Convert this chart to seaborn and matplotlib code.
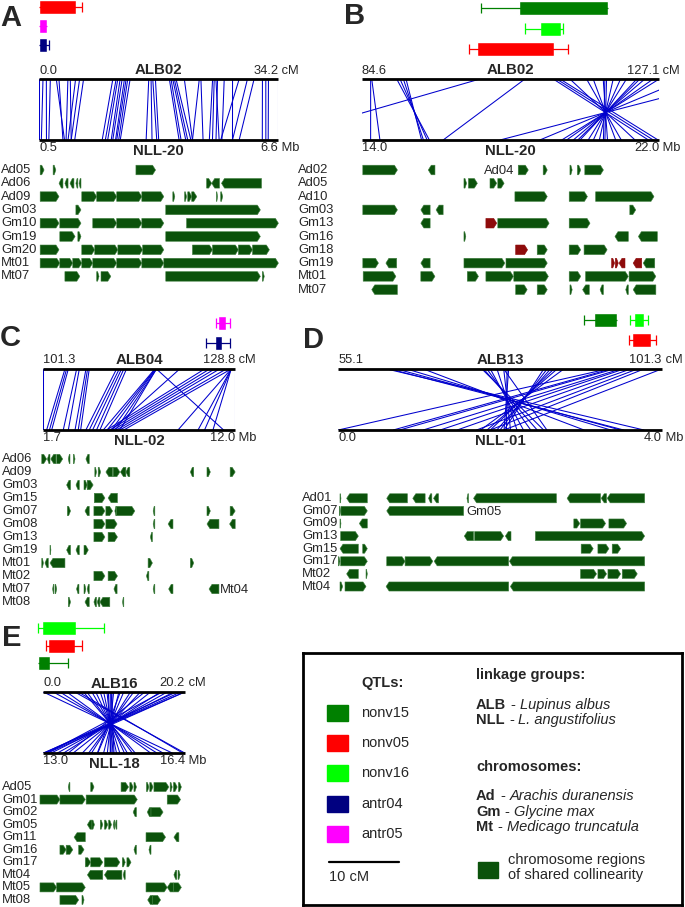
import numpy as np
import pandas as pd
import matplotlib
matplotlib.use("Agg")
import matplotlib.pyplot as plt
from matplotlib.patches import Rectangle
import seaborn as sns

sns.set_theme(style="white")
plt.rcParams['font.family'] = ['Liberation Sans', 'DejaVu Sans']

W, H = 685, 907
PX_PER_CM = 7.0
BLUE = '#0000cd'
BLOCK = '#0b520b'
DARKRED = '#8e0b0b'
qtl_names = ['nonv15', 'nonv05', 'nonv16', 'antr04', 'antr05']
qtl_colors = ['#008000', '#ff0000', '#00ff00', '#000080', '#ff00ff']
QCOL = dict(zip(qtl_names, qtl_colors))

# ---------------- panel A : ALB02 vs NLL-20 ----------------
a_cm = (0.0, 34.2)
a_mb = (0.5, 6.6)
# (qtl, row, whisker lo, box lo, box hi, whisker hi)  in cM
a_qtls = [('nonv05', 0, 0.0, 0.0, 5.27, 6.13),
          ('antr05', 1, 0.0, 0.0, 1.14, 1.14),
          ('antr04', 2, 0.0, 0.0, 1.14, 1.42)]
a_link_cm = [0.0, 0.57, 1.05, 1.62, 2.47, 2.85, 4.13, 4.47, 5.23, 5.80, 6.37, 10.55, 11.02,
             11.26, 11.59, 11.88, 12.21, 12.45, 12.68, 13.02, 15.68, 16.01, 16.25, 16.63,
             18.62, 18.86, 19.10, 19.33, 19.57, 20.76, 22.90, 23.13, 24.80, 25.03, 25.27,
             25.51, 26.46, 27.65, 28.60, 29.78, 30.73, 31.92, 32.40, 32.78, 34.2]
a_link_mb = [0.50, 0.56, 0.69, 0.75, 1.15, 1.11, 1.19, 1.32, 1.24, 1.32, 1.41, 2.11, 2.19,
             2.25, 2.34, 2.38, 2.45, 2.48, 2.53, 2.57, 3.23, 3.38, 3.50, 3.55,
             4.07, 4.12, 4.24, 4.29, 4.37, 4.41, 4.41, 4.68, 4.84, 4.92, 5.09,
             5.01, 5.16, 5.43, 5.13, 5.43, 5.60, 6.19, 6.28, 6.34, 6.60]
a_rows = ['Ad05', 'Ad06', 'Ad09', 'Gm03', 'Gm10', 'Gm19', 'Gm20', 'Mt01', 'Mt07']
a_blocks = [
    [(0.53, 0.63), (0.86, 0.93), (2.97, 3.47)],
    [(1.11, 1.01), (1.24, 1.16), (1.39, 1.29), (1.49, 1.44), (1.57, 1.52), (4.77, 4.90), (5.10, 4.90), (6.17, 5.15)],
    [(0.53, 1.01), (1.59, 1.97), (1.97, 2.48), (2.48, 3.12), (3.12, 3.68), (3.91, 3.96), (4.21, 4.26),
     (4.29, 4.39), (4.39, 4.52), (5.02, 5.05), (5.13, 5.18)],
    [(1.44, 1.57), (3.73, 6.14)],
    [(0.53, 1.01), (1.03, 1.57), (1.87, 2.48), (2.48, 3.12), (3.12, 3.68), (4.26, 6.60)],
    [(1.03, 1.42), (1.49, 1.57), (3.73, 6.14)],
    [(0.53, 1.01), (1.59, 1.92), (1.92, 2.51), (2.51, 3.14), (3.14, 3.68), (4.41, 4.92), (4.92, 5.58),
     (5.58, 5.94), (5.94, 6.37)],
    [(0.53, 1.03), (1.03, 1.36), (1.36, 1.59), (1.59, 1.87), (1.87, 2.48), (2.48, 3.12), (3.12, 3.68), (3.68, 6.60)],
    [(1.16, 1.54), (1.97, 2.03), (2.08, 2.33), (3.73, 6.14), (6.19, 6.24)],
]

# ---------------- panel B : ALB02 vs NLL-20 ----------------
b_cm = (84.6, 127.1)
b_mb = (14.0, 22.0)
b_qtls = [('nonv15', 0, 101.6, 107.0, 119.8, 119.8),
          ('nonv16', 1, 107.9, 110.0, 113.0, 113.4),
          ('nonv05', 2, 99.9, 101.1, 112.0, 114.0)]
b_link_cm = [85.88, 86.03, 89.60, 90.07, 90.55, 90.93, 101.49, 107.92, 111.96, 112.44, 112.92,
             114.34, 116.72, 117.67, 119.10, 119.34, 119.58, 120.53, 121.58, 122.43, 123.91,
             124.34, 125.05, 126.24, 127.10, 130.86, 137.85]
b_link_mb = [14.24, 14.49, 15.82, 15.76, 15.66, 15.61, 11.50, 16.19, 21.71, 21.84, 21.97,
             21.35, 20.98, 20.83, 20.61, 20.50, 20.54, 20.39, 20.23, 20.09, 19.87,
             19.81, 19.69, 19.51, 19.38, 18.79, 17.72]
b_rows = ['Ad02', 'Ad05', 'Ad10', 'Gm03', 'Gm13', 'Gm16', 'Gm18', 'Gm19', 'Mt01', 'Mt07']
b_blocks = [
    [(14.03, 14.96), (15.97, 15.79), (18.21, 18.48), (18.88, 18.99), (19.60, 19.66), (19.80, 19.89), (20.00, 20.50)],
    [(16.75, 16.82), (16.87, 17.11), (17.45, 17.63), (17.66, 17.83)],
    [(18.12, 18.99), (19.58, 20.07), (20.29, 21.86)],
    [(14.03, 14.96), (15.84, 15.59), (16.19, 16.00), (21.21, 21.37)],
    [(15.84, 15.59), (17.66, 19.04), (19.58, 20.14)],
    [(16.75, 16.80), (21.17, 20.81), (21.95, 21.44)],
    [(18.72, 18.99), (19.58, 19.89), (19.98, 20.60)],
    [(14.03, 14.45), (14.94, 14.65), (15.84, 15.59), (16.75, 17.85), (17.88, 18.99), (21.88, 21.57)],
    [(14.04, 14.92), (15.59, 15.97), (16.84, 17.14), (17.34, 18.08), (18.09, 19.02), (19.58, 19.89),
     (20.02, 21.17), (21.19, 21.91)],
    [(14.96, 14.27), (18.14, 18.45), (18.72, 18.99), (19.60, 19.66), (20.12, 19.94), (20.50, 20.41),
     (21.17, 21.10), (21.91, 21.30)],
]
b_red = {'Gm13': [(17.34, 17.63)], 'Gm18': [(18.14, 18.46)],
         'Gm19': [(20.72, 20.80), (20.82, 20.90), (21.08, 20.92), (21.53, 21.30)]}

# ---------------- panel C : ALB04 vs NLL-02 ----------------
c_cm = (101.3, 128.8)
c_mb = (1.7, 12.0)
c_qtls = [('antr05', 0, 126.1, 126.3, 127.5, 128.0),
          ('antr04', 1, 124.6, 125.9, 126.9, 128.0)]
c_link_cm = [101.3, 104.48, 104.72, 104.96, 106.15, 106.53, 107.48, 107.71, 107.95, 111.85, 112.23,
             112.56, 112.89, 113.27, 117.31, 117.40, 117.45, 117.55, 117.55, 117.55, 120.87, 124.43,
             125.15, 125.86, 126.57, 127.52, 128.23, 128.23, 128.23, 128.23, 128.23, 128.8]
c_link_mb = [1.70, 1.91, 2.06, 2.18, 2.80, 3.07, 3.43, 3.60, 3.73, 4.01, 4.19,
             4.37, 4.58, 4.76, 4.94, 5.15, 5.38, 5.61, 5.83, 11.38, 5.38, 5.12,
             5.29, 5.47, 5.65, 5.83, 6.04, 8.94, 10.01, 10.36, 10.81, 12.00]
c_rows = ['Ad06', 'Ad09', 'Gm03', 'Gm15', 'Gm07', 'Gm08', 'Gm13', 'Gm19', 'Mt01', 'Mt02', 'Mt07', 'Mt08']
c_blocks = [
    [(1.65, 1.91), (2.09, 1.95), (2.41, 2.13), (2.45, 2.77), (3.16, 3.07), (3.34, 3.43), (4.19, 4.01)],
    [(4.49, 4.58), (4.67, 4.80), (5.44, 5.08), (5.47, 5.83), (6.15, 5.86), (6.36, 6.15), (9.78, 9.60),
     (10.49, 10.67), (11.73, 12.0)],
    [(3.19, 2.98), (3.66, 3.48), (3.91, 4.08), (4.08, 4.40)],
    [(4.46, 5.03), (5.70, 5.20)],
    [(3.02, 3.19), (4.19, 3.96), (4.44, 5.03), (5.08, 5.44), (5.65, 5.56), (5.65, 6.63), (7.70, 7.61),
     (10.49, 10.67), (11.73, 12.0)],
    [(4.44, 5.03), (5.08, 5.68), (7.70, 7.61), (8.67, 8.41), (11.13, 10.49), (12.0, 11.70)],
    [(4.44, 5.03), (5.20, 5.70), (7.57, 7.46)],
    [(2.09, 2.14), (3.19, 2.98), (3.66, 3.48), (3.91, 4.14)],
    [(1.65, 1.74), (2.00, 1.82), (2.89, 2.09), (7.34, 7.57), (9.60, 9.78)],
    [(4.44, 5.03), (5.20, 5.70), (7.38, 7.25)],
    [(2.30, 2.23), (2.36, 2.45), (3.64, 3.51), (3.91, 4.01), (4.19, 4.08), (5.68, 5.51), (7.70, 7.61),
     (8.67, 8.44), (11.13, 10.60)],
    [(3.07, 3.19), (4.19, 3.96), (4.58, 4.44), (4.76, 4.62), (5.29, 4.76), (6.04, 5.97)],
]

# ---------------- panel D : ALB13 vs NLL-01 ----------------
d_cm = (55.1, 101.3)
d_mb = (0.0, 4.0)
d_qtls = [('nonv15', 0, 90.18, 91.61, 94.86, 94.86),
          ('nonv16', 0, 96.77, 97.34, 98.77, 99.39),
          ('nonv05', 1, 96.63, 97.10, 99.73, 100.54)]
d_link_cm = [62.02, 62.50, 63.45, 64.88, 67.27, 75.62, 75.86, 76.34, 76.82, 77.77, 78.73, 79.20,
             79.44, 78.73, 84.45, 84.93, 85.41, 85.89, 86.36, 87.32, 93.52, 94.00, 94.48, 95.43,
             95.91, 96.86, 97.82, 98.77, 101.3]
d_link_mb = [3.78, 3.53, 3.49, 3.37, 3.04, 2.54, 2.46, 2.38, 2.29, 2.21, 2.13, 2.08,
             2.05, 2.58, 2.05, 2.00, 1.96, 1.88, 1.84, 1.76, 0.0, 0.68, 0.76, 1.05,
             1.26, 1.47, 1.71, 1.88, 2.05]
d_rows = ['Ad01', 'Gm07', 'Gm09', 'Gm13', 'Gm15', 'Gm17', 'Mt02', 'Mt04']
d_blocks = [
    [(0.021, 0.033), (0.359, 0.103), (0.855, 0.599), (1.074, 0.921), (1.157, 1.116), (1.240, 1.178),
     (1.611, 1.591), (2.698, 1.673), (3.244, 2.830), (3.318, 3.252), (3.789, 3.326)],
    [(0.012, 0.029), (0.033, 0.359), (1.550, 0.599)],
    [(0.021, 0.033), (0.359, 0.260), (2.913, 2.987), (2.996, 3.306), (3.347, 3.566)],
    [(0.029, 0.248), (1.673, 1.558), (1.686, 2.045), (2.136, 2.066), (2.438, 3.789)],
    [(0.248, 0.021), (0.302, 0.359), (3.004, 3.153), (3.211, 3.347), (3.388, 3.492)],
    [(0.0, 0.021), (0.029, 0.359), (0.599, 0.826), (0.826, 1.169), (2.107, 1.186), (3.789, 2.116)],
    [(0.248, 0.103), (0.343, 0.359), (2.996, 3.194), (3.211, 3.318), (3.335, 3.492), (3.512, 3.698)],
    [(0.021, 0.054), (0.083, 0.343), (2.107, 0.591), (3.789, 2.128)],
]

# ---------------- panel E : ALB16 vs NLL-18 ----------------
e_cm = (0.0, 20.2)
e_mb = (13.0, 16.4)
e_qtls = [('nonv16', 0, -0.72, -0.23, 4.69, 8.61),
          ('nonv05', 1, 0.34, 0.72, 4.55, 5.51),
          ('nonv15', 2, -0.80, -0.80, 0.96, 3.59)]
e_link_cm = [0.0, 1.44, 2.39, 3.35, 4.50, 5.00, 5.74, 6.22, 6.94, 7.50, 8.14, 8.62, 9.10, 9.30, 9.57,
             9.70, 9.81, 10.05, 10.80, 11.00, 11.49, 12.45, 12.92, 13.88, 14.50, 15.32, 16.75,
             17.00, 17.71, 18.67, 19.00, 19.63, 20.20, 20.20]
e_link_mb = [16.10, 15.88, 15.73, 15.58, 16.40, 16.35, 15.21, 15.14, 15.02, 14.95, 14.84, 14.76, 14.68,
             14.62, 14.61, 14.70, 14.65, 14.54, 14.45, 14.30, 14.31, 14.16, 14.09, 13.94, 13.60, 13.72,
             13.49, 13.10, 13.34, 13.19, 13.02, 13.04, 13.00, 13.10]
e_rows = ['Ad05', 'Gm01', 'Gm02', 'Gm05', 'Gm11', 'Gm16', 'Gm17', 'Mt04', 'Mt05', 'Mt08']
e_blocks = [
    [(13.64, 13.60), (14.14, 14.22), (14.87, 15.05), (15.08, 15.16), (15.18, 15.24), (15.48, 15.54),
     (15.56, 15.64), (15.66, 16.02), (16.05, 16.10), (16.13, 16.22), (16.25, 16.32)],
    [(12.92, 13.40), (13.40, 14.01), (14.03, 15.26), (15.98, 16.30)],
    [(15.24, 15.16), (15.59, 15.50), (15.59, 15.88)],
    [(14.17, 14.06), (14.17, 14.23), (14.37, 14.43), (14.47, 14.55), (14.57, 14.64), (14.72, 14.68), (14.77, 14.73)],
    [(14.01, 13.74), (15.47, 15.94), (16.26, 16.14)],
    [(13.40, 13.55), (13.55, 13.71), (13.85, 13.98), (15.24, 15.18), (15.59, 15.54)],
    [(14.01, 14.14), (14.14, 14.43), (14.47, 14.84), (14.90, 14.97), (15.01, 15.11)],
    [(14.43, 14.06), (14.89, 14.47), (14.97, 14.92), (16.21, 16.14), (16.24, 16.29)],
    [(12.92, 13.32), (13.32, 14.01), (15.47, 15.98), (16.13, 15.98), (16.13, 16.32)],
    [(13.40, 13.85), (13.93, 13.98), (15.62, 15.51), (15.62, 15.82)],
]

fig = plt.figure(figsize=(6.85, 9.07), dpi=100)


def px_axes(x, y, w, h):
    return fig.add_axes([x / W, 1 - (y + h) / H, w / W, h / H])


def ptext(x, y, s, **kw):
    kw.setdefault('fontsize', 9.3)
    kw.setdefault('va', 'center')
    fig.text(x / W, 1 - y / H, s, **kw)


def draw_block(ax, a, b, row, color, tip):
    lo, hi = min(a, b), max(a, b)
    t = min(tip, (hi - lo) * 0.6)
    h = 0.36
    if b >= a:
        xs = [lo, hi - t, hi, hi - t, lo]
    else:
        xs = [hi, lo + t, lo, lo + t, hi]
    ys = [row - h, row - h, row, row + h, row + h]
    ax.fill(xs, ys, color=color, lw=0.4, ec='#3f7f3f' if color == BLOCK else color, clip_on=False)


def draw_panel(letter, letter_xy, x0, label_x, q0, qstep, top, bot, r0, rstep,
               cm, mb, names, qtls, link_cm, link_mb, rows, blocks, red=None, notes=()):
    w = (cm[1] - cm[0]) * PX_PER_CM
    ptext(*letter_xy, letter, fontsize=21, weight='bold', ha='left')

    # QTL confidence intervals
    nq = max(q[1] for q in qtls) + 1
    qa = px_axes(x0, q0 - qstep / 2, w, qstep * nq)
    qa.set_xlim(*cm)
    qa.set_ylim(nq - 0.5, -0.5)
    qa.axis('off')
    hb = 14 / qstep
    for name, r, lo, blo, bhi, hi in qtls:
        col = QCOL[name]
        qa.hlines(r, lo, hi, color=col, lw=0.9, clip_on=False)
        for e, bb in ((lo, blo), (hi, bhi)):
            if abs(e - bb) > 1e-9:
                qa.vlines(e, r - hb * 0.36, r + hb * 0.36, color=col, lw=0.9, clip_on=False)
        qa.barh(r, bhi - blo, left=blo, height=hb, color=col, clip_on=False)

    # collinearity links
    la = px_axes(x0, top, w, bot - top)
    xt = (np.array(link_cm) - cm[0]) / (cm[1] - cm[0])
    xb = (np.array(link_mb) - mb[0]) / (mb[1] - mb[0])
    df = pd.DataFrame({'link': np.repeat(np.arange(len(xt)), 2),
                       'x': np.column_stack([xb, xt]).ravel(),
                       'y': np.tile([0.0, 1.0], len(xt))})
    sns.lineplot(data=df, x='x', y='y', units='link', estimator=None, sort=False,
                 color=BLUE, lw=0.75, ax=la)
    la.set_xlim(0, 1)
    la.set_ylim(0, 1)
    la.axis('off')
    for yy in (0, 1):
        la.plot([0, 1], [yy, yy], color='black', lw=2, clip_on=False, solid_capstyle='butt')

    ptext(x0, top - 8.5, f'{cm[0]:.1f}', ha='left')
    ptext(x0 + w / 2, top - 8.5, names[0], ha='center', fontsize=10.8, weight='bold')
    ptext(x0 + w, top - 8.5, f'{cm[1]:.1f}', ha='right')
    ptext(x0 + w, top - 8.5, ' cM', ha='left')
    ptext(x0, bot + 8, f'{mb[0]:.1f}', ha='left')
    ptext(x0 + w / 2, bot + 11, names[1], ha='center', fontsize=10.8, weight='bold')
    ptext(x0 + w, bot + 8, f'{mb[1]:.1f}', ha='right')
    ptext(x0 + w, bot + 8, ' Mb', ha='left')

    # chromosome regions of shared collinearity
    n = len(rows)
    ba = px_axes(x0, r0 - rstep / 2, w, rstep * n)
    ba.set_xlim(*mb)
    ba.set_ylim(n - 0.5, -0.5)
    ba.axis('off')
    tip = 3.0 * (mb[1] - mb[0]) / w
    for i, segs in enumerate(blocks):
        for a, b in segs:
            draw_block(ba, a, b, i, BLOCK, tip)
    if red:
        for lab, segs in red.items():
            for a, b in segs:
                draw_block(ba, a, b, rows.index(lab), DARKRED, tip)
    for lab, x, s, ha in notes:
        ba.text(x, rows.index(lab) + 0.1, s, ha=ha, va='center', fontsize=9.4, clip_on=False)
    for i, lab in enumerate(rows):
        ptext(label_x, r0 + i * rstep, lab, ha='left', fontsize=9.4)


draw_panel('A', (0, 18), 39, 1, 7.3, 18.8, 79, 140, 170, 13.3,
           a_cm, a_mb, ('ALB02', 'NLL-20'), a_qtls, a_link_cm, a_link_mb, a_rows, a_blocks)
draw_panel('B', (344, 16), 361.7, 298, 8, 20.5, 79, 140, 170, 13.3,
           b_cm, b_mb, ('ALB02', 'NLL-20'), b_qtls, b_link_cm, b_link_mb, b_rows, b_blocks,
           red=b_red, notes=[('Ad02', 18.1, 'Ad04', 'right')])
draw_panel('C', (0, 338), 42.7, 2, 323, 20, 369, 430, 459, 13.0,
           c_cm, c_mb, ('ALB04', 'NLL-02'), c_qtls, c_link_cm, c_link_mb, c_rows, c_blocks,
           notes=[('Mt07', 11.2, 'Mt04', 'left')])
draw_panel('D', (303, 340), 338.3, 302, 320, 20, 369, 430, 498.3, 12.6,
           d_cm, d_mb, ('ALB13', 'NLL-01'), d_qtls, d_link_cm, d_link_mb, d_rows, d_blocks,
           notes=[('Gm07', 1.58, 'Gm05', 'left')])
draw_panel('E', (2, 638), 43.3, 2, 628, 17.5, 692, 753, 787, 12.55,
           e_cm, e_mb, ('ALB16', 'NLL-18'), e_qtls, e_link_cm, e_link_mb, e_rows, e_blocks)

# ---------------- legend box ----------------
lg = px_axes(303, 653, 379, 252)
lg.set_xlim(303, 682)
lg.set_ylim(905, 653)
lg.set_xticks([])
lg.set_yticks([])
lg.set_facecolor('white')
for s in lg.spines.values():
    s.set_visible(True)
    s.set_color('black')
    s.set_linewidth(2)

FS = 10.5
lg.text(361, 683, 'QTLs:', weight='bold', fontsize=FS, va='center')
for i, (name, col) in enumerate(zip(qtl_names, qtl_colors)):
    y = 713 + 30.2 * i
    lg.add_patch(Rectangle((327, y - 8), 21, 16, color=col))
    lg.text(361, y, name, fontsize=FS, va='center')
lg.plot([329, 329 + 10 * PX_PER_CM], [862, 862], color='black', lw=1.6)
lg.text(329, 877, '10 cM', fontsize=FS, va='center')


def mixed(x, y, parts):
    prev = lg.text(x, y, parts[0][0], fontsize=FS, va='center', **parts[0][1])
    for s, kw in parts[1:]:
        prev = lg.annotate(s, xy=(1, 0), xycoords=prev, xytext=(3.2, 0), textcoords='offset points',
                           va='bottom', ha='left', fontsize=FS, **kw)


B_ = {'weight': 'bold'}
N_ = {}
I_ = {'style': 'italic'}
lg.text(476, 675, 'linkage groups:', weight='bold', fontsize=FS, va='center')
mixed(476, 705, [('ALB', B_), ('-', N_), ('Lupinus albus', I_)])
mixed(476, 720, [('NLL', B_), ('-', N_), ('L. angustifolius', I_)])
lg.text(476, 767, 'chromosomes:', weight='bold', fontsize=FS, va='center')
mixed(476, 796, [('Ad', B_), ('-', N_), ('Arachis duranensis', I_)])
mixed(476, 812, [('Gm', B_), ('-', N_), ('Glycine max', I_)])
mixed(476, 827, [('Mt', B_), ('-', N_), ('Medicago truncatula', I_)])
lg.add_patch(Rectangle((478, 862), 20, 16, color=BLOCK))
lg.text(508, 860, 'chromosome regions', fontsize=FS, va='center')
lg.text(508, 875, 'of shared collinearity', fontsize=FS, va='center')

fig.savefig('out.png', dpi=100)
